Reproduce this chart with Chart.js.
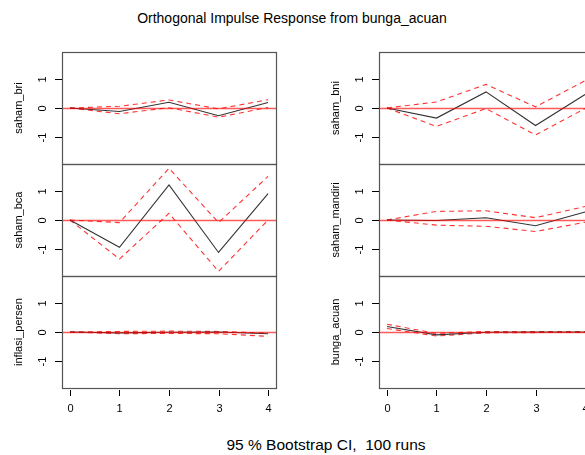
<!DOCTYPE html>
<html>
<head>
<meta charset="utf-8">
<script src="https://cdn.jsdelivr.net/npm/chart.js@4.4.1/dist/chart.umd.min.js"></script>
<style>
  html,body{margin:0;padding:0;background:#fff;overflow:hidden;width:585px;height:455px;}
  canvas{position:absolute;}
  .txt{position:absolute;font-family:Arial,"Liberation Sans",sans-serif;color:#000;white-space:pre;transform:translate(-50%,-50%);}
</style>
</head>
<body>
<div class="txt" id="title" style="left:292px;top:18px;font-size:14px;">Orthogonal Impulse Response from bunga_acuan</div>
<div class="txt" id="foot" style="left:326px;top:445px;font-size:15.5px;">95 % Bootstrap CI,  100 runs</div>
<script>
(function(){
  // Data
  const steps = [0,1,2,3,4];
  const yTicks = [-1,0,1];

  const bri_irf   = [0, -0.12, 0.20, -0.27, 0.19];
  const bri_upper = [0, 0.06, 0.28, -0.03, 0.29];
  const bri_lower = [0, -0.20, 0.01, -0.32, 0.02];

  const bca_irf   = [0, -0.95, 1.22, -1.13, 0.92];
  const bca_upper = [0, -0.09, 1.80, -0.09, 1.52];
  const bca_lower = [0, -1.36, 0.23, -1.79, 0.00];

  const infl_irf   = [0, -0.03, -0.01, 0.00, -0.06];
  const infl_upper = [0, 0.02, 0.03, 0.02, -0.04];
  const infl_lower = [0, -0.06, -0.05, -0.06, -0.15];

  const bni_irf   = [0, -0.35, 0.56, -0.61, 0.47];
  const bni_upper = [0, 0.21, 0.82, 0.04, 0.95];
  const bni_lower = [0, -0.64, -0.02, -0.94, -0.02];

  const mandiri_irf   = [0, -0.02, 0.08, -0.20, 0.28];
  const mandiri_upper = [0, 0.30, 0.32, 0.08, 0.47];
  const mandiri_lower = [0, -0.18, -0.22, -0.40, -0.08];

  const acuan_irf   = [0.19, -0.10, -0.01, 0.00, 0.00];
  const acuan_upper = [0.27, -0.05, 0.02, 0.02, 0.02];
  const acuan_lower = [0.12, -0.14, -0.03, -0.02, -0.02];

  // Layout
  const FONT = 'Arial, "Liberation Sans", sans-serif';
  const COLS = [
    { left:0,   width:290, boxL:62,  boxR:276 },
    { left:300, width:300, boxL:379, boxR:593 }
  ];
  const ROWS = [ {top:52, h:112}, {top:164, h:112}, {top:276, h:112} ];
  const PAD = 8, XAXIS = 34;

  const panels = [
    { col:0, row:0, name:'saham_bri',      irf:bri_irf,     up:bri_upper,     lo:bri_lower },
    { col:0, row:1, name:'saham_bca',      irf:bca_irf,     up:bca_upper,     lo:bca_lower },
    { col:0, row:2, name:'inflasi_persen', irf:infl_irf,    up:infl_upper,    lo:infl_lower },
    { col:1, row:0, name:'saham_bni',      irf:bni_irf,     up:bni_upper,     lo:bni_lower },
    { col:1, row:1, name:'saham_mandiri',  irf:mandiri_irf, up:mandiri_upper, lo:mandiri_lower },
    { col:1, row:2, name:'bunga_acuan',    irf:acuan_irf,   up:acuan_upper,   lo:acuan_lower }
  ];

  const pts = arr => steps.map((s,i)=>({x:s, y:arr[i]}));

  // Frame, ticks, labels and the red zero line, all placed through the chart's scales
  const rFrame = {
    id:'rFrame',
    afterDatasetDraw(chart, args){
      if(args.index!==0) return;
      const {ctx, chartArea:a, scales:{y}} = chart;
      const py = Math.round(y.getPixelForValue(0))+0.5;
      ctx.save();
      ctx.beginPath(); ctx.rect(a.left,a.top,a.right-a.left,a.bottom-a.top); ctx.clip();
      ctx.strokeStyle='rgba(255,0,0,0.65)'; ctx.lineWidth=1.4;
      ctx.beginPath(); ctx.moveTo(a.left,py); ctx.lineTo(a.right,py); ctx.stroke();
      ctx.restore();
    },
    afterDraw(chart){
      const {ctx, chartArea:a, scales:{x,y}} = chart;
      const o = chart.options.plugins.rFrame;
      ctx.save();
      ctx.strokeStyle='#555'; ctx.lineWidth=1.2;
      ctx.strokeRect(a.left+0.5, a.top+0.5, a.right-a.left, a.bottom-a.top);
      ctx.strokeStyle='#000'; ctx.lineWidth=1; ctx.fillStyle='#000';
      ctx.font='11px '+FONT; ctx.textAlign='center'; ctx.textBaseline='middle';
      yTicks.forEach(v=>{
        const py = Math.round(y.getPixelForValue(v))+0.5;
        ctx.beginPath(); ctx.moveTo(a.left-7,py); ctx.lineTo(a.left,py); ctx.stroke();
        ctx.save(); ctx.translate(a.left-19,py); ctx.rotate(-Math.PI/2);
        ctx.fillText(String(v),0,0); ctx.restore();
      });
      ctx.save(); ctx.translate(a.left-43,(a.top+a.bottom)/2); ctx.rotate(-Math.PI/2);
      ctx.fillText(o.name,0,0); ctx.restore();
      if(o.xaxis){
        steps.forEach(v=>{
          const px = Math.round(x.getPixelForValue(v))+0.5;
          ctx.beginPath(); ctx.moveTo(px,a.bottom+2); ctx.lineTo(px,a.bottom+8); ctx.stroke();
          ctx.fillText(String(v),px,a.bottom+21);
        });
      }
      ctx.restore();
    }
  };

  panels.forEach(p=>{
    const c = COLS[p.col], r = ROWS[p.row];
    const last = p.row===ROWS.length-1;
    const cv = document.createElement('canvas');
    const h = r.h + PAD*2 + (last?XAXIS:0);
    cv.width = c.width; cv.height = h;
    cv.style.left = c.left+'px'; cv.style.top = (r.top-PAD)+'px';
    cv.style.width = c.width+'px'; cv.style.height = h+'px';
    document.body.appendChild(cv);

    new Chart(cv, {
      type:'line',
      data:{ datasets:[
        { data:pts(p.irf), borderColor:'#333', borderWidth:1.1, pointRadius:0, tension:0 },
        { data:pts(p.up),  borderColor:'rgba(255,0,0,0.8)', borderWidth:1.1, borderDash:[5,4], pointRadius:0, tension:0 },
        { data:pts(p.lo),  borderColor:'rgba(255,0,0,0.8)', borderWidth:1.1, borderDash:[5,4], pointRadius:0, tension:0 }
      ]},
      options:{
        responsive:false, animation:false, devicePixelRatio:1,
        layout:{ padding:{ left:c.boxL-c.left, right:c.left+c.width-c.boxR, top:PAD, bottom:PAD+(last?XAXIS:0) } },
        scales:{
          x:{ type:'linear', min:-0.16, max:4.16, display:false },
          y:{ type:'linear', min:-1.95, max:1.95, display:false }
        },
        plugins:{ legend:{display:false}, tooltip:{enabled:false}, rFrame:{ name:p.name, xaxis:last } }
      },
      plugins:[rFrame]
    });
  });
})();
</script>
</body>
</html>
